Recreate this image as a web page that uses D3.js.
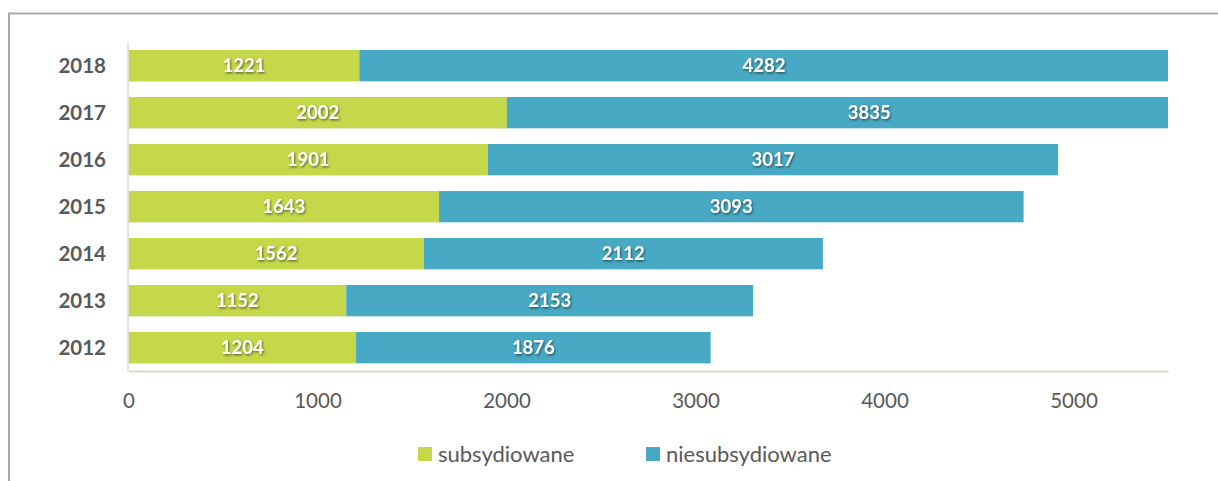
<!DOCTYPE html>
<html>
<head>
<meta charset="utf-8">
<script src="https://cdn.jsdelivr.net/npm/d3@7"></script>
<style>
  body { margin: 0; background: #fff; }
  text { font-family: Lato, "Open Sans", sans-serif; }
</style>
</head>
<body>
<div id="chart"></div>
<script>
// data
const years = ['2018', '2017', '2016', '2015', '2014', '2013', '2012'];
const subsydiowane = [1221, 2002, 1901, 1643, 1562, 1152, 1204];
const niesubsydiowane = [4282, 3835, 3017, 3093, 2112, 2153, 1876];
const seriesNames = ['subsydiowane', 'niesubsydiowane'];
const seriesColors = ['#c4d84a', '#47a9c4'];
const xTicks = [0, 1000, 2000, 3000, 4000, 5000];

const width = 1218, height = 481;
const xMax = 5500;

const svg = d3.select('#chart').append('svg')
  .attr('width', width)
  .attr('height', height);

const defs = svg.append('defs');
const shadow = defs.append('filter').attr('id', 'tshadow')
  .attr('x', '-20%').attr('y', '-20%').attr('width', '140%').attr('height', '150%');
shadow.append('feDropShadow')
  .attr('dx', 1).attr('dy', 1.3).attr('stdDeviation', 0.8)
  .attr('flood-color', '#000').attr('flood-opacity', 0.55);

// outer frame (runs off the right and bottom edge)
svg.append('path')
  .attr('d', 'M9,' + (height + 5) + 'V13.5H' + (width + 5))
  .attr('fill', 'none')
  .attr('stroke', '#a9a9a9')
  .attr('stroke-width', 2);

const x = d3.scaleLinear().domain([0, xMax]).range([128.5, 1168]);
const y = d3.scaleBand().domain(years).range([42, 371])
  .paddingInner(0.34).paddingOuter(0.17);

const rows = years.map((yr, i) => ({ year: yr, values: [subsydiowane[i], niesubsydiowane[i]] }));
const stacked = d3.stack().keys([0, 1]).value((d, k) => d.values[k])(rows);

const clipX = v => Math.min(v, xMax);

stacked.forEach((layer, k) => {
  const g = svg.append('g');
  g.selectAll('rect')
    .data(layer)
    .join('rect')
      .attr('x', d => x(d[0]))
      .attr('y', d => y(d.data.year))
      .attr('width', d => x(clipX(d[1])) - x(d[0]))
      .attr('height', y.bandwidth())
      .attr('fill', seriesColors[k]);
  // faint shadow under each bar
  g.selectAll('line')
    .data(layer)
    .join('line')
      .attr('x1', d => x(d[0]))
      .attr('x2', d => x(clipX(d[1])))
      .attr('y1', d => y(d.data.year) + y.bandwidth() + 0.5)
      .attr('y2', d => y(d.data.year) + y.bandwidth() + 0.5)
      .attr('stroke', k === 0 ? '#e3ecc0' : '#c9e3ec')
      .attr('stroke-width', 1);
});

// value labels
stacked.forEach((layer, k) => {
  svg.append('g').selectAll('text')
    .data(layer)
    .join('text')
      .attr('x', d => x((d[0] + d[1]) / 2))
      .attr('y', d => y(d.data.year) + y.bandwidth() / 2)
      .attr('dy', '0.36em')
      .attr('text-anchor', 'middle')
      .attr('fill', '#fff')
      .attr('font-weight', 700)
      .attr('font-size', 18.5)
      .attr('filter', 'url(#tshadow)')
      .text(d => d.data.values[k]);
});

// y axis
svg.append('line')
  .attr('x1', 128).attr('x2', 128)
  .attr('y1', 42).attr('y2', 371)
  .attr('stroke', '#d9d9d9').attr('stroke-width', 1.6);

svg.append('g').selectAll('text')
  .data(years)
  .join('text')
    .attr('x', 106)
    .attr('y', d => y(d) + y.bandwidth() / 2)
    .attr('dy', '0.36em')
    .attr('text-anchor', 'end')
    .attr('fill', '#595959')
    .attr('font-weight', 700)
    .attr('font-size', 20.5)
    .text(d => d);

// x axis
const xAxis = svg.append('g')
  .attr('transform', 'translate(0,371)')
  .call(d3.axisBottom(x).tickValues(xTicks).tickSize(0).tickPadding(22).tickFormat(d3.format('d')));
xAxis.select('.domain')
  .attr('stroke', '#dcdcc6').attr('stroke-width', 2);
xAxis.selectAll('text')
  .attr('fill', '#595959')
  .attr('font-size', 20.5)
  .attr('font-family', 'Lato, "Open Sans", sans-serif');

// legend
const legendX = [418, 646];
const legend = svg.append('g').selectAll('g')
  .data(seriesNames)
  .join('g')
    .attr('transform', (d, i) => 'translate(' + legendX[i] + ',447)');
legend.append('rect')
  .attr('width', 14).attr('height', 14)
  .attr('fill', (d, i) => seriesColors[i]);
legend.append('text')
  .attr('x', 20).attr('y', 7)
  .attr('dy', '0.36em')
  .attr('fill', '#595959')
  .attr('font-size', 22)
  .text(d => d);
</script>
</body>
</html>
